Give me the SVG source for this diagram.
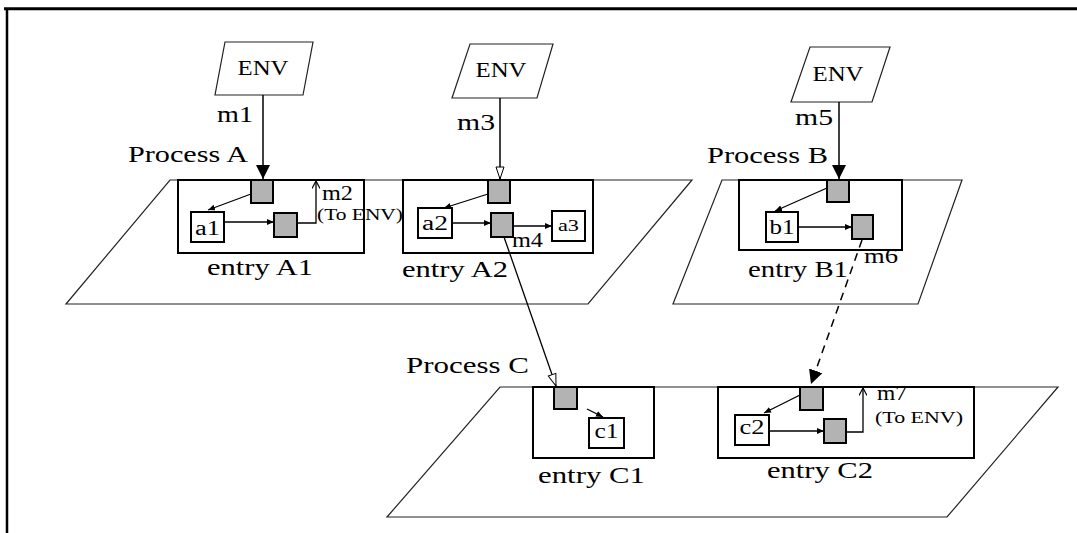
<svg xmlns="http://www.w3.org/2000/svg" width="1077" height="533" viewBox="0 0 1077 533">
<style>
.t{font-family:"Liberation Serif","Times New Roman",serif;fill:#000}
.big{font-size:23px}
.mid{font-size:20px}
.sm{font-size:17px}
.plane{fill:none;stroke:#222;stroke-width:1.2}
.env{fill:#fff;stroke:#222;stroke-width:1.2}
.box{fill:none;stroke:#000;stroke-width:2}
.obj{fill:#fff;stroke:#000;stroke-width:2}
.q{fill:#b3b3b3;stroke:#000;stroke-width:2}
.c{fill:none;stroke:#000;stroke-width:1.5}
.ci{fill:none;stroke:#000;stroke-width:1.3}
.frame{fill:none;stroke:#000}
</style>
<defs>
<marker id="af" viewBox="0 0 14 14" refX="14" refY="7" markerWidth="14" markerHeight="14" markerUnits="userSpaceOnUse" orient="auto"><path d="M0,0 L14,7 L0,14 z" fill="#000"/></marker>
<marker id="ah" viewBox="0 0 14 10" refX="13" refY="5" markerWidth="14" markerHeight="10" markerUnits="userSpaceOnUse" orient="auto"><path d="M1,1 L13,5 L1,9 z" fill="#fff" stroke="#000" stroke-width="1"/></marker>
<marker id="as" viewBox="0 0 7 6" refX="7" refY="3" markerWidth="7" markerHeight="6" markerUnits="userSpaceOnUse" orient="auto"><path d="M0,0 L7,3 L0,6 z" fill="#000"/></marker>
<marker id="ao" viewBox="0 0 8 8" refX="7.5" refY="4" markerWidth="8" markerHeight="8" markerUnits="userSpaceOnUse" orient="auto"><path d="M0,0 L7.5,4 L0,8" fill="none" stroke="#000" stroke-width="1.2"/></marker>
</defs>

<g id="frame">
<line class="frame" x1="4" y1="8.7" x2="1077" y2="8.7" stroke-width="3"/>
<line class="frame" x1="7" y1="8" x2="7" y2="533" stroke-width="2.5"/>
</g>

<g id="processA">
<polygon class="plane" points="170,180 692,180 588,304 66,304"/>
<text class="t big" x="128" y="162" textLength="120" lengthAdjust="spacingAndGlyphs">Process A</text>
</g>
<g id="processB">
<polygon class="plane" points="722,180 962,180 918,304 673,304"/>
<text class="t big" x="707" y="163" textLength="121" lengthAdjust="spacingAndGlyphs">Process B</text>
</g>
<g id="processC">
<polygon class="plane" points="500,387 1058,387 947,517 387,517"/>
<text class="t big" x="406" y="373" textLength="123" lengthAdjust="spacingAndGlyphs">Process C</text>
</g>

<g id="env1">
<polygon class="env" points="225,42 313,42 303,95 215,95"/>
<text class="t mid" x="263" y="75" text-anchor="middle" textLength="51" lengthAdjust="spacingAndGlyphs">ENV</text>
</g>
<g id="env2">
<polygon class="env" points="470,44 553,44 537,98 452,98"/>
<text class="t mid" x="501" y="77" text-anchor="middle" textLength="51" lengthAdjust="spacingAndGlyphs">ENV</text>
</g>
<g id="env3">
<polygon class="env" points="810,47 890,47 872,102 791,102"/>
<text class="t mid" x="838" y="81" text-anchor="middle" textLength="51" lengthAdjust="spacingAndGlyphs">ENV</text>
</g>

<g id="entryA1">
<rect class="box" x="178" y="180" width="186" height="73"/>
<rect class="q" x="251" y="180" width="22" height="23"/>
<rect class="obj" x="191" y="212" width="33" height="30"/>
<text class="t mid" x="207.5" y="235" text-anchor="middle" textLength="25" lengthAdjust="spacingAndGlyphs">a1</text>
<rect class="q" x="274" y="213" width="23" height="24"/>
<text class="t big" x="207" y="275" textLength="106" lengthAdjust="spacingAndGlyphs">entry A1</text>
</g>

<g id="entryA2">
<rect class="box" x="403" y="180" width="190" height="73"/>
<rect class="q" x="488" y="180" width="22" height="23"/>
<rect class="obj" x="418" y="208" width="34" height="30"/>
<text class="t mid" x="435" y="230" text-anchor="middle" textLength="26" lengthAdjust="spacingAndGlyphs">a2</text>
<rect class="q" x="491" y="213" width="22" height="24"/>
<rect class="obj" x="552" y="211" width="33" height="30"/>
<text class="t sm" x="568.5" y="231" text-anchor="middle" textLength="21" lengthAdjust="spacingAndGlyphs">a3</text>
<text class="t big" x="402" y="277" textLength="106" lengthAdjust="spacingAndGlyphs">entry A2</text>
</g>

<g id="entryB1">
<rect class="box" x="739" y="180" width="163" height="70"/>
<rect class="q" x="827" y="180" width="22" height="22"/>
<rect class="obj" x="766" y="212" width="32" height="30"/>
<text class="t mid" x="782" y="234" text-anchor="middle" textLength="25" lengthAdjust="spacingAndGlyphs">b1</text>
<rect class="q" x="852" y="215" width="21" height="24"/>
<text class="t big" x="748" y="277" textLength="100" lengthAdjust="spacingAndGlyphs">entry B1</text>
</g>

<g id="entryC1">
<rect class="box" x="533" y="387" width="121" height="71"/>
<rect class="q" x="554" y="387" width="23" height="22"/>
<rect class="obj" x="589" y="418" width="35" height="30"/>
<text class="t mid" x="606.5" y="438" text-anchor="middle" textLength="24" lengthAdjust="spacingAndGlyphs">c1</text>
<text class="t big" x="538" y="483" textLength="107" lengthAdjust="spacingAndGlyphs">entry C1</text>
</g>

<g id="entryC2">
<rect class="box" x="718" y="387" width="256" height="71"/>
<rect class="q" x="800" y="387" width="23" height="23"/>
<rect class="obj" x="735" y="415" width="34" height="30"/>
<text class="t mid" x="752" y="434" text-anchor="middle" textLength="25" lengthAdjust="spacingAndGlyphs">c2</text>
<rect class="q" x="824" y="419" width="22" height="24"/>
<text class="t big" x="767" y="478" textLength="106" lengthAdjust="spacingAndGlyphs">entry C2</text>
</g>

<g id="connectors">
<line class="c" x1="263" y1="95" x2="263" y2="179" marker-end="url(#af)"/>
<text class="t big" x="217" y="122" textLength="36" lengthAdjust="spacingAndGlyphs">m1</text>
<line class="c" x1="500" y1="98" x2="500" y2="179" marker-end="url(#ah)"/>
<text class="t big" x="457" y="130" textLength="38" lengthAdjust="spacingAndGlyphs">m3</text>
<line class="c" x1="839" y1="102" x2="839" y2="179" marker-end="url(#af)"/>
<text class="t big" x="795" y="125" textLength="38" lengthAdjust="spacingAndGlyphs">m5</text>

<line class="ci" x1="251" y1="194" x2="208" y2="210" marker-end="url(#as)"/>
<line class="ci" x1="224" y1="222" x2="274" y2="222" marker-end="url(#as)"/>
<polyline class="ci" points="298,223 316,223 316,181" marker-end="url(#ao)"/>
<text class="t mid" x="322" y="200" textLength="31" lengthAdjust="spacingAndGlyphs">m2</text>
<text class="t sm" x="317" y="220" textLength="86" lengthAdjust="spacingAndGlyphs">(To ENV)</text>

<line class="ci" x1="488" y1="194" x2="444" y2="208" marker-end="url(#as)"/>
<line class="ci" x1="452" y1="223" x2="491" y2="223" marker-end="url(#as)"/>
<line class="ci" x1="513" y1="226" x2="552" y2="226" marker-end="url(#as)"/>
<line class="ci" x1="504" y1="237" x2="556" y2="386" marker-end="url(#ah)"/>
<text class="t mid" x="512" y="247" textLength="31" lengthAdjust="spacingAndGlyphs">m4</text>

<line class="ci" x1="827" y1="188" x2="775" y2="211" marker-end="url(#as)"/>
<line class="ci" x1="798" y1="227" x2="852" y2="227" marker-end="url(#as)"/>
<line class="c" x1="862" y1="240" x2="811" y2="384" stroke-dasharray="8 6" marker-end="url(#af)"/>
<text class="t mid" x="864" y="263" textLength="34" lengthAdjust="spacingAndGlyphs">m6</text>

<line class="ci" x1="587" y1="409" x2="603" y2="417" marker-end="url(#as)"/>

<line class="ci" x1="800" y1="395" x2="764" y2="413" marker-end="url(#as)"/>
<line class="ci" x1="769" y1="431" x2="824" y2="431" marker-end="url(#as)"/>
<polyline class="ci" points="847,432 863,432 863,388" marker-end="url(#ao)"/>
<text class="t mid" x="877" y="400" textLength="30" lengthAdjust="spacingAndGlyphs">m7</text>
<text class="t sm" x="875" y="423" textLength="88" lengthAdjust="spacingAndGlyphs">(To ENV)</text>
</g>
</svg>
